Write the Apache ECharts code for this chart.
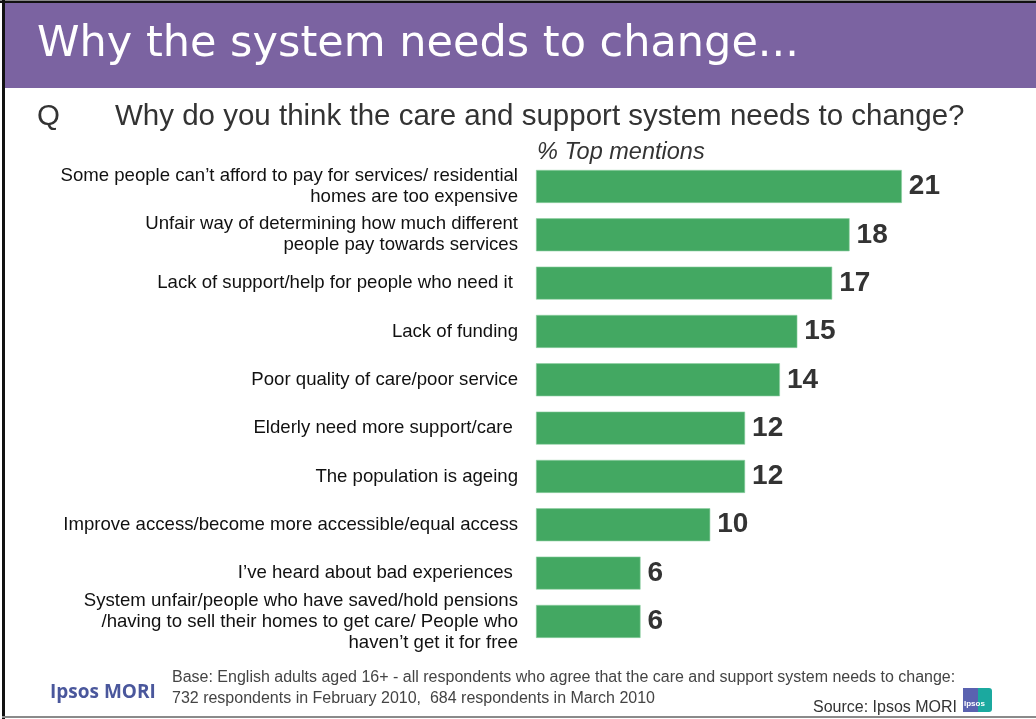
<!DOCTYPE html>
<html>
<head>
<meta charset="utf-8">
<title>Why the system needs to change...</title>
<script src="https://cdn.jsdelivr.net/npm/echarts@6/dist/echarts.min.js"></script>
<style>
  html, body { margin: 0; padding: 0; background: #ffffff; }
  #chart { width: 1036px; height: 719px; }
</style>
</head>
<body>
<div id="chart"></div>
<script>
// Reasons given, listed from most to least mentioned
const categories = [
  'Some people can\u2019t afford to pay for services/ residential\nhomes are too expensive',
  'Unfair way of determining how much different\npeople pay towards services',
  'Lack of support/help for people who need it ',
  'Lack of funding',
  'Poor quality of care/poor service',
  'Elderly need more support/care ',
  'The population is ageing',
  'Improve access/become more accessible/equal access',
  'I\u2019ve heard about bad experiences ',
  'System unfair/people who have saved/hold pensions\n/having to sell their homes to get care/ People who\nhaven\u2019t get it for free'
];

// % top mentions
const topMentions = [21, 18, 17, 15, 14, 12, 12, 10, 6, 6];

const titleText = 'Why the system needs to change...';
const questionText = 'Why do you think the care and support system needs to change?';
const unitText = '% Top mentions';
const baseLines = [
  'Base: English adults aged 16+ - all respondents who agree that the care and support system needs to change:',
  '732 respondents in February 2010,  684 respondents in March 2010'
];
const sourceText = 'Source: Ipsos MORI';

const chart = echarts.init(document.getElementById('chart'), null, { renderer: 'canvas' });

const option = {
  backgroundColor: '#ffffff',
  animation: false,
  grid: { left: 536, top: 162.3, width: 470.4, height: 483.3, containLabel: false },
  xAxis: {
    type: 'value',
    min: 0,
    max: 27,
    show: false
  },
  yAxis: {
    type: 'category',
    data: categories,
    inverse: true,
    axisLine: { show: false },
    axisTick: { show: false },
    splitLine: { show: false },
    axisLabel: {
      margin: 18,
      color: '#111111',
      fontFamily: 'Liberation Sans, Arial, sans-serif',
      fontSize: 18.6,
      lineHeight: 21,
      align: 'right'
    }
  },
  title: [
    {
      text: titleText,
      left: 37, top: 23, padding: 0,
      textStyle: { color: '#ffffff', fontFamily: 'DejaVu Sans', fontWeight: 'normal', fontSize: 43 }
    },
    {
      text: 'Q',
      left: 37, top: 102, padding: 0,
      textStyle: { color: '#333333', fontFamily: 'Liberation Sans, Arial', fontWeight: 'normal', fontSize: 29.5 }
    },
    {
      text: questionText,
      left: 115, top: 102, padding: 0,
      textStyle: { color: '#333333', fontFamily: 'Liberation Sans, Arial', fontWeight: 'normal', fontSize: 29.5 }
    },
    {
      text: unitText,
      left: 537, top: 141, padding: 0,
      textStyle: { color: '#333333', fontFamily: 'Liberation Sans, Arial', fontStyle: 'italic', fontWeight: 'normal', fontSize: 23.5 }
    }
  ],
  graphic: [
    // header band and frame
    { type: 'rect', left: 5, top: 3, shape: { width: 1031, height: 85 }, style: { fill: '#7b63a1' }, z: -1 },
    { type: 'rect', left: 0, top: 0, shape: { width: 1036, height: 1 }, style: { fill: '#888888' }, z: -1 },
    { type: 'rect', left: 0, top: 1, shape: { width: 1036, height: 2 }, style: { fill: '#111111' }, z: -1 },
    { type: 'rect', left: 2, top: 0, shape: { width: 3, height: 719 }, style: { fill: '#111111' }, z: -1 },
    { type: 'rect', left: 2, top: 716, shape: { width: 1034, height: 2 }, style: { fill: '#8a8a8a' }, z: -1 },
    // footer
    {
      type: 'text', left: 50, top: 683,
      style: { text: 'Ipsos MORI', fill: '#4a579c', font: 'bold 19px "Open Sans", "Liberation Sans", Arial' }
    },
    {
      type: 'text', left: 172, top: 670,
      style: { text: baseLines[0], fill: '#444444', font: '16px "Liberation Sans", Arial' }
    },
    {
      type: 'text', left: 172, top: 691,
      style: { text: baseLines[1], fill: '#444444', font: '16px "Liberation Sans", Arial' }
    },
    {
      type: 'text', left: 813, top: 700,
      style: { text: sourceText, fill: '#333333', font: '16px "Liberation Sans", Arial' }
    },
    // small Ipsos mark
    { type: 'rect', left: 963, top: 688, shape: { width: 15, height: 24 }, style: { fill: '#5a62b0' } },
    { type: 'rect', left: 978, top: 688, shape: { width: 14, height: 24, r: [0, 3, 3, 0] }, style: { fill: '#1ba99f' } },
    {
      type: 'text', left: 964, top: 700,
      style: { text: 'Ipsos', fill: '#ffffff', font: 'bold 8px "Liberation Sans", Arial' }
    }
  ],
  series: [
    {
      type: 'bar',
      data: topMentions,
      barWidth: 33,
      itemStyle: { color: '#43a862', borderColor: '#8fd0a2', borderWidth: 0.6 },
      label: {
        show: true,
        position: 'right',
        distance: 7,
        color: '#333333',
        fontFamily: 'Liberation Sans, Arial',
        fontWeight: 'bold',
        fontSize: 28
      }
    }
  ]
};

chart.setOption(option);
</script>
</body>
</html>
